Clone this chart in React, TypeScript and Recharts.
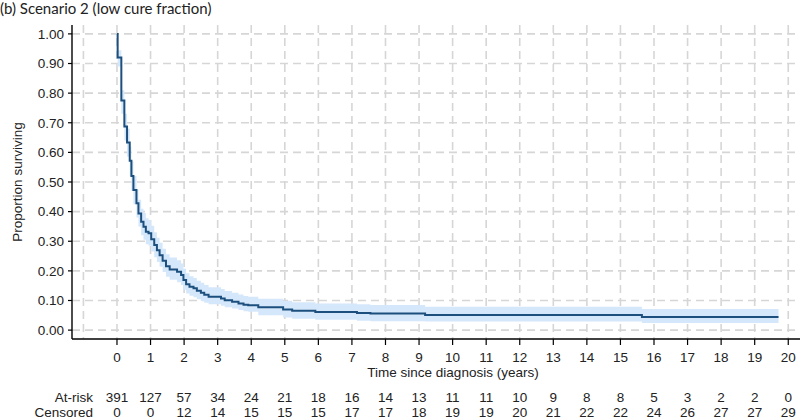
import React from "react";
import {
  ComposedChart,
  Line,
  Area,
  CartesianGrid,
  XAxis,
  YAxis,
} from "recharts";

// step times (years) and Kaplan-Meier estimate
const time = [
  0, 0.02, 0.13, 0.22, 0.3, 0.38, 0.43, 0.49, 0.58, 0.64, 0.72, 0.79, 0.86,
  0.94, 1.02, 1.11, 1.19, 1.27, 1.36, 1.46, 1.57, 1.79, 1.91, 1.98, 2.06,
  2.16, 2.28, 2.38, 2.5, 2.6, 2.73, 3.1, 3.21, 3.43, 3.62, 3.77, 3.91, 4.21,
  4.95, 5.22, 5.91, 7.15, 7.55, 9.18, 15.64, 19.71,
];
const surv = [
  1, 0.92, 0.775, 0.687, 0.633, 0.572, 0.52, 0.473, 0.428, 0.394, 0.366,
  0.349, 0.332, 0.327, 0.307, 0.287, 0.27, 0.253, 0.234, 0.216, 0.205, 0.197,
  0.186, 0.169, 0.155, 0.146, 0.141, 0.133, 0.126, 0.119, 0.113, 0.107, 0.101,
  0.096, 0.09, 0.086, 0.084, 0.077, 0.07, 0.065, 0.061, 0.058, 0.056, 0.051,
  0.044, 0.044,
];
const lower = [
  1, 0.89, 0.73, 0.64, 0.585, 0.52, 0.47, 0.425, 0.38, 0.35, 0.32, 0.305,
  0.29, 0.285, 0.265, 0.246, 0.23, 0.214, 0.196, 0.18, 0.17, 0.162, 0.152,
  0.136, 0.124, 0.116, 0.111, 0.104, 0.098, 0.092, 0.087, 0.082, 0.077,
  0.073, 0.068, 0.064, 0.062, 0.05, 0.043, 0.038, 0.035, 0.032, 0.03, 0.029,
  0.024, 0.024,
];
const upper = [
  1, 0.945, 0.81, 0.73, 0.68, 0.62, 0.57, 0.52, 0.475, 0.44, 0.41, 0.395,
  0.378, 0.372, 0.352, 0.33, 0.312, 0.295, 0.275, 0.256, 0.245, 0.236, 0.225,
  0.207, 0.192, 0.182, 0.176, 0.167, 0.16, 0.152, 0.145, 0.139, 0.132, 0.126,
  0.12, 0.115, 0.113, 0.106, 0.099, 0.094, 0.09, 0.087, 0.085, 0.079, 0.071,
  0.071,
];

const tickYears = [
  0, 1, 2, 3, 4, 5, 6, 7, 8, 9, 10, 11, 12, 13, 14, 15, 16, 17, 18, 19, 20,
];
const atRisk = [
  391, 127, 57, 34, 24, 21, 18, 16, 14, 13, 11, 11, 10, 9, 8, 8, 5, 3, 2, 2, 0,
];
const censored = [
  0, 0, 12, 14, 15, 15, 15, 17, 17, 18, 19, 19, 20, 21, 22, 22, 24, 26, 27,
  27, 29,
];
const gridYears = [-1, ...tickYears];
const yTicks = [0, 0.1, 0.2, 0.3, 0.4, 0.5, 0.6, 0.7, 0.8, 0.9, 1];

const data = time.map((t, i) => ({
  t,
  s: surv[i],
  band: [lower[i], upper[i]],
}));

const FONT = "'Liberation Sans', Arial, sans-serif";

const XTick = (props: any) => {
  const { x, y, payload } = props;
  const i = tickYears.indexOf(payload.value);
  return (
    <g fontFamily={FONT} fontSize={13.5} fill="#222">
      <text x={x} y={y + 17} textAnchor="middle" fill="#222">
        {payload.value}
      </text>
      <text x={x} y={y + 57} textAnchor="middle" fill="#222">
        {atRisk[i]}
      </text>
      <text x={x} y={y + 71.5} textAnchor="middle" fill="#222">
        {censored[i]}
      </text>
    </g>
  );
};

const XLabel = (props: any) => {
  const { viewBox } = props;
  const vx = viewBox.x;
  const vy = viewBox.y;
  return (
    <g fontFamily={FONT} fontSize={13.5} fill="#222">
      <text x={vx + 381} y={vy + 38} textAnchor="middle" fill="#222">
        Time since diagnosis (years)
      </text>
      <text x={vx + 21} y={vy + 63} textAnchor="end" fill="#222">
        At-risk
      </text>
      <text x={vx + 21} y={vy + 77.5} textAnchor="end" fill="#222">
        Censored
      </text>
    </g>
  );
};

const YLabel = () => (
  <text
    x={17}
    y={182}
    transform="rotate(-90 17 182)"
    textAnchor="middle"
    dominantBaseline="central"
    fontFamily={FONT}
    fontSize={13.5}
    fill="#222"
  >
    Proportion surviving
  </text>
);

export default function App() {
  return (
    <div
      style={{
        position: "absolute",
        left: 0,
        top: 0,
        width: 800,
        height: 419,
        background: "#fff",
      }}
    >
      <div
        style={{
          position: "absolute",
          left: 0,
          top: 0,
          fontFamily: "Lato, 'Open Sans', sans-serif",
          fontSize: 15,
          lineHeight: "17px",
          color: "#222",
          whiteSpace: "nowrap",
        }}
      >
        (b) Scenario 2 (low cure fraction)
      </div>
      <ComposedChart
        width={800}
        height={419}
        data={data}
        margin={{ top: 25, right: 0, left: 0, bottom: 50 }}
      >
        <CartesianGrid
          stroke="#d6d6d6"
          strokeWidth={1.6}
          strokeDasharray="8 5"
          verticalValues={gridYears}
          horizontalValues={yTicks}
        />
        <XAxis
          dataKey="t"
          type="number"
          domain={[-1.34, 20.35]}
          ticks={tickYears}
          interval={0}
          allowDataOverflow
          height={30}
          tickSize={6}
          tickMargin={0}
          tickLine={{ stroke: "#000", strokeWidth: 1.2 }}
          axisLine={{ stroke: "#000", strokeWidth: 1.4 }}
          tick={<XTick />}
          label={<XLabel />}
        />
        <YAxis
          type="number"
          domain={[-0.03, 1.03]}
          ticks={yTicks}
          interval={0}
          allowDataOverflow
          width={72}
          tickSize={4}
          tickMargin={4}
          tickFormatter={(v: number) => v.toFixed(2)}
          tick={{ fontFamily: FONT, fontSize: 13.5, fill: "#222" }}
          tickLine={{ stroke: "#000", strokeWidth: 1.2 }}
          axisLine={{ stroke: "#000", strokeWidth: 1.4 }}
          label={<YLabel />}
        />
        <Area
          type="stepAfter"
          dataKey="band"
          stroke="none"
          fill="#d5e8fb"
          fillOpacity={1}
          isAnimationActive={false}
        />
        <Line
          type="stepAfter"
          dataKey="s"
          stroke="#1d4f7e"
          strokeWidth={2}
          dot={false}
          isAnimationActive={false}
        />
      </ComposedChart>
    </div>
  );
}
